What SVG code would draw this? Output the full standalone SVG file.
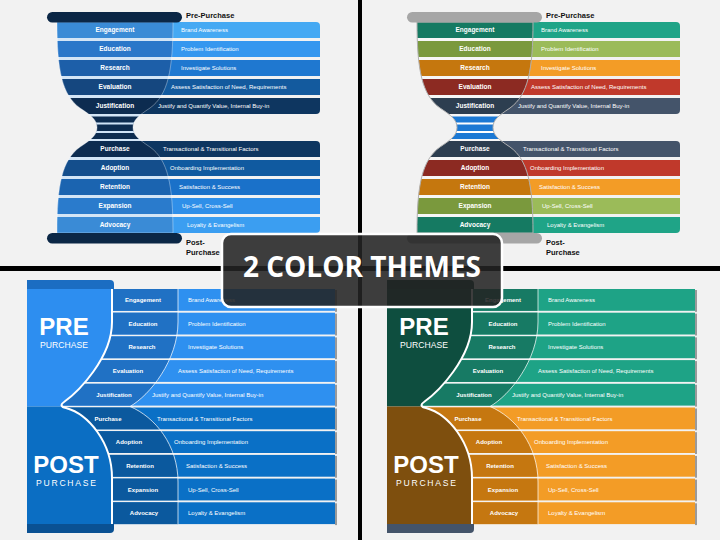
<svg xmlns="http://www.w3.org/2000/svg" width="720" height="540" viewBox="0 0 720 540">
<defs>
<style>
text{font-family:"Liberation Sans",Arial,sans-serif}
.lb{font-weight:bold;font-size:6.5px;fill:#fff;text-anchor:middle}
.lb2{font-weight:bold;font-size:6px;fill:#fff;text-anchor:middle}
.bt{font-size:6px;fill:#fff}
.hd{font-weight:bold;font-size:7.5px;fill:#111}
.big{font-weight:bold;font-size:24px;fill:#fff;text-anchor:middle}
.sub{font-size:8.6px;fill:#fff;text-anchor:middle}
.ttl{font-family:"Open Sans","Liberation Sans",sans-serif;font-weight:700;font-size:28px;fill:#fff;text-anchor:middle}
.sh{fill:#9a9a9a}
</style>
<path id="hgp" d="M57,22 H173 C173,70 168,95 150,108 C138,116 133,120 133,127.5 C133,135 138,139 150,147 C168,160 173,185 173,233 H57 C57,185 62,160 80,147 C92,139 97,135 97,127.5 C97,120 92,116 80,108 C62,95 57,70 57,22 Z"/>
<clipPath id="hgc" clipPathUnits="userSpaceOnUse"><path d="M57,22 H173 C173,70 168,95 150,108 C138,116 133,120 133,127.5 C133,135 138,139 150,147 C168,160 173,185 173,233 H57 C57,185 62,160 80,147 C92,139 97,135 97,127.5 C97,120 92,116 80,108 C62,95 57,70 57,22 Z"/></clipPath>
<clipPath id="cc" clipPathUnits="userSpaceOnUse"><path d="M0,270 H178 V322 C178,360 150,395 130,406.5 C155,417 178,445 178,482 V540 H0 Z"/></clipPath>
</defs>
<rect x="0" y="0" width="720" height="540" fill="#f2f2f2"/>

<!-- TOP LEFT -->
<g id="tl">
<use href="#hgp" fill="#d3e5f6"/>
<g id="tl-engagement"><path d="M115,22H316Q320,22 320,26V38H115Z" fill="#45a9f3"/><rect x="50" y="22" width="130" height="16" fill="#3a8bd6" clip-path="url(#hgc)"/><text class="lb" x="115" y="32.3">Engagement</text><text class="bt" x="181" y="32.1">Brand Awareness</text></g>
<g id="tl-education"><rect x="115" y="41" width="205" height="16" fill="#3597ef"/><rect x="50" y="41" width="130" height="16" fill="#2a77c9" clip-path="url(#hgc)"/><text class="lb" x="115" y="51.3">Education</text><text class="bt" x="181" y="51.1">Problem Identification</text></g>
<g id="tl-research"><rect x="115" y="60" width="205" height="16" fill="#1f78d0"/><rect x="50" y="60" width="130" height="16" fill="#1d5fa9" clip-path="url(#hgc)"/><text class="lb" x="115" y="70.3">Research</text><text class="bt" x="181" y="70.1">Investigate Solutions</text></g>
<g id="tl-evaluation"><rect x="115" y="79" width="205" height="16" fill="#135a9e"/><rect x="50" y="79" width="130" height="16" fill="#15477f" clip-path="url(#hgc)"/><text class="lb" x="115" y="89.3">Evaluation</text><text class="bt" x="171" y="89.1">Assess Satisfaction of Need, Requirements</text></g>
<g id="tl-justification"><path d="M115,98H320V110Q320,114 316,114H115Z" fill="#0e3660"/><rect x="50" y="98" width="130" height="16" fill="#0d2c50" clip-path="url(#hgc)"/><text class="lb" x="115" y="108.3">Justification</text><text class="bt" x="158" y="108.1">Justify and Quantify Value, Internal Buy-in</text></g>
<g id="tl-neck" clip-path="url(#hgc)"><rect x="90" y="116.5" width="50" height="22.5" fill="#0d2c50"/><rect x="90" y="122.5" width="50" height="2" fill="#cfe3f7"/><rect x="90" y="131" width="50" height="2" fill="#cfe3f7"/></g>
<g id="tl-purchase"><path d="M115,141H316Q320,141 320,145V157H115Z" fill="#0e3660"/><rect x="50" y="141" width="130" height="16" fill="#0d2c50" clip-path="url(#hgc)"/><text class="lb" x="115" y="151.3">Purchase</text><text class="bt" x="163" y="151.1">Transactional &amp; Transitional Factors</text></g>
<g id="tl-adoption"><rect x="115" y="160" width="205" height="16" fill="#105aa0"/><rect x="50" y="160" width="130" height="16" fill="#144e8c" clip-path="url(#hgc)"/><text class="lb" x="115" y="170.3">Adoption</text><text class="bt" x="170" y="170.1">Onboarding Implementation</text></g>
<g id="tl-retention"><rect x="115" y="179" width="205" height="16" fill="#1a71c9"/><rect x="50" y="179" width="130" height="16" fill="#1b64b0" clip-path="url(#hgc)"/><text class="lb" x="115" y="189.3">Retention</text><text class="bt" x="179" y="189.1">Satisfaction &amp; Success</text></g>
<g id="tl-expansion"><rect x="115" y="198" width="205" height="16" fill="#2f8fe9"/><rect x="50" y="198" width="130" height="16" fill="#2a7bcc" clip-path="url(#hgc)"/><text class="lb" x="115" y="208.3">Expansion</text><text class="bt" x="182" y="208.1">Up-Sell, Cross-Sell</text></g>
<g id="tl-advocacy"><path d="M115,217H320V229Q320,233 316,233H115Z" fill="#3b9ef1"/><rect x="50" y="217" width="130" height="16" fill="#3a8bd6" clip-path="url(#hgc)"/><text class="lb" x="115" y="227.3">Advocacy</text><text class="bt" x="187" y="227.1">Loyalty &amp; Evangelism</text></g>
<use href="#hgp" fill="none" stroke="#ffffff" stroke-opacity=".35" stroke-width="1"/>
<rect id="tl-topcap" x="47" y="12" width="135" height="10.5" rx="5.25" fill="#0b2746"/>
<rect id="tl-botcap" x="47" y="233" width="135" height="10.5" rx="5.25" fill="#0b2746"/>
<text class="hd" x="186" y="17.5">Pre-Purchase</text>
<text class="hd" x="186" y="245">Post-</text>
<text class="hd" x="186" y="255">Purchase</text>
</g>

<!-- TOP RIGHT -->
<g id="tr" transform="translate(360,0)">
<use href="#hgp" fill="#f6f6f6"/>
<g id="tr-engagement"><path d="M115,22H316Q320,22 320,26V38H115Z" fill="#1fa487"/><rect x="50" y="22" width="130" height="16" fill="#157a62" clip-path="url(#hgc)"/><text class="lb" x="115" y="32.3">Engagement</text><text class="bt" x="181" y="32.1">Brand Awareness</text></g>
<g id="tr-education"><rect x="115" y="41" width="205" height="16" fill="#9bbb59"/><rect x="50" y="41" width="130" height="16" fill="#7a993d" clip-path="url(#hgc)"/><text class="lb" x="115" y="51.3">Education</text><text class="bt" x="181" y="51.1">Problem Identification</text></g>
<g id="tr-research"><rect x="115" y="60" width="205" height="16" fill="#f39c26"/><rect x="50" y="60" width="130" height="16" fill="#c5770e" clip-path="url(#hgc)"/><text class="lb" x="115" y="70.3">Research</text><text class="bt" x="181" y="70.1">Investigate Solutions</text></g>
<g id="tr-evaluation"><rect x="115" y="79" width="205" height="16" fill="#c0392b"/><rect x="50" y="79" width="130" height="16" fill="#8c2a22" clip-path="url(#hgc)"/><text class="lb" x="115" y="89.3">Evaluation</text><text class="bt" x="171" y="89.1">Assess Satisfaction of Need, Requirements</text></g>
<g id="tr-justification"><path d="M115,98H320V110Q320,114 316,114H115Z" fill="#44546a"/><rect x="50" y="98" width="130" height="16" fill="#2d3e50" clip-path="url(#hgc)"/><text class="lb" x="115" y="108.3">Justification</text><text class="bt" x="158" y="108.1">Justify and Quantify Value, Internal Buy-in</text></g>
<g id="tr-neck" clip-path="url(#hgc)"><rect x="90" y="116.5" width="50" height="22.5" fill="#1c79d4"/><rect x="90" y="122.5" width="50" height="2" fill="#ffffff"/><rect x="90" y="131" width="50" height="2" fill="#ffffff"/></g>
<g id="tr-purchase"><path d="M115,141H316Q320,141 320,145V157H115Z" fill="#44546a"/><rect x="50" y="141" width="130" height="16" fill="#2d3e50" clip-path="url(#hgc)"/><text class="lb" x="115" y="151.3">Purchase</text><text class="bt" x="163" y="151.1">Transactional &amp; Transitional Factors</text></g>
<g id="tr-adoption"><rect x="115" y="160" width="205" height="16" fill="#c0392b"/><rect x="50" y="160" width="130" height="16" fill="#8c2a22" clip-path="url(#hgc)"/><text class="lb" x="115" y="170.3">Adoption</text><text class="bt" x="170" y="170.1">Onboarding Implementation</text></g>
<g id="tr-retention"><rect x="115" y="179" width="205" height="16" fill="#f39c26"/><rect x="50" y="179" width="130" height="16" fill="#c5770e" clip-path="url(#hgc)"/><text class="lb" x="115" y="189.3">Retention</text><text class="bt" x="179" y="189.1">Satisfaction &amp; Success</text></g>
<g id="tr-expansion"><rect x="115" y="198" width="205" height="16" fill="#9bbb59"/><rect x="50" y="198" width="130" height="16" fill="#7a993d" clip-path="url(#hgc)"/><text class="lb" x="115" y="208.3">Expansion</text><text class="bt" x="182" y="208.1">Up-Sell, Cross-Sell</text></g>
<g id="tr-advocacy"><path d="M115,217H320V229Q320,233 316,233H115Z" fill="#1fa487"/><rect x="50" y="217" width="130" height="16" fill="#157a62" clip-path="url(#hgc)"/><text class="lb" x="115" y="227.3">Advocacy</text><text class="bt" x="187" y="227.1">Loyalty &amp; Evangelism</text></g>
<use href="#hgp" fill="none" stroke="#b0b0b0" stroke-width="1"/>
<rect id="tr-topcap" x="47" y="12" width="135" height="10.5" rx="5.25" fill="#a6a6a6"/>
<rect id="tr-botcap" x="47" y="233" width="135" height="10.5" rx="5.25" fill="#a6a6a6"/>
<text class="hd" x="186" y="17.5">Pre-Purchase</text>
<text class="hd" x="186" y="245">Post-</text>
<text class="hd" x="186" y="255">Purchase</text>
</g>

<!-- BOTTOM LEFT -->
<g id="bl">
<g id="bl-engagement"><rect x="60" y="289" width="275" height="21.8" fill="#2e90f0"/><rect class="sh" x="335" y="290" width="2" height="21.8"/><rect x="60" y="289" width="130" height="21.8" fill="#2071c4" clip-path="url(#cc)"/><text class="lb2" x="143" y="302">Engagement</text><text class="bt" x="188" y="302">Brand Awareness</text></g>
<g id="bl-education"><rect x="60" y="312.7" width="275" height="21.8" fill="#2e90f0"/><rect class="sh" x="335" y="313.7" width="2" height="21.8"/><rect x="60" y="312.7" width="130" height="21.8" fill="#2071c4" clip-path="url(#cc)"/><text class="lb2" x="143" y="325.7">Education</text><text class="bt" x="188" y="325.7">Problem Identification</text></g>
<g id="bl-research"><rect x="60" y="336.4" width="275" height="21.8" fill="#2e90f0"/><rect class="sh" x="335" y="337.4" width="2" height="21.8"/><rect x="60" y="336.4" width="130" height="21.8" fill="#2071c4" clip-path="url(#cc)"/><text class="lb2" x="142" y="349.4">Research</text><text class="bt" x="188" y="349.4">Investigate Solutions</text></g>
<g id="bl-evaluation"><rect x="60" y="360.1" width="275" height="21.8" fill="#2e90f0"/><rect class="sh" x="335" y="361.1" width="2" height="21.8"/><rect x="60" y="360.1" width="130" height="21.8" fill="#2071c4" clip-path="url(#cc)"/><text class="lb2" x="128" y="373.1">Evaluation</text><text class="bt" x="178" y="373.1">Assess Satisfaction of Need, Requirements</text></g>
<g id="bl-justification"><rect x="60" y="383.8" width="275" height="21.8" fill="#2e90f0"/><rect class="sh" x="335" y="384.8" width="2" height="21.8"/><rect x="60" y="383.8" width="130" height="21.8" fill="#2071c4" clip-path="url(#cc)"/><text class="lb2" x="114" y="396.8">Justification</text><text class="bt" x="152" y="396.8">Justify and Quantify Value, Internal Buy-in</text></g>
<g id="bl-purchase"><rect x="60" y="407.5" width="275" height="21.8" fill="#0a70c6"/><rect class="sh" x="335" y="408.5" width="2" height="21.8"/><rect x="60" y="407.5" width="130" height="21.8" fill="#0b599e" clip-path="url(#cc)"/><text class="lb2" x="108" y="420.5">Purchase</text><text class="bt" x="157" y="420.5">Transactional &amp; Transitional Factors</text></g>
<g id="bl-adoption"><rect x="60" y="431.2" width="275" height="21.8" fill="#0a70c6"/><rect class="sh" x="335" y="432.2" width="2" height="21.8"/><rect x="60" y="431.2" width="130" height="21.8" fill="#0b599e" clip-path="url(#cc)"/><text class="lb2" x="129" y="444.2">Adoption</text><text class="bt" x="174" y="444.2">Onboarding Implementation</text></g>
<g id="bl-retention"><rect x="60" y="454.9" width="275" height="21.8" fill="#0a70c6"/><rect class="sh" x="335" y="455.9" width="2" height="21.8"/><rect x="60" y="454.9" width="130" height="21.8" fill="#0b599e" clip-path="url(#cc)"/><text class="lb2" x="140" y="467.9">Retention</text><text class="bt" x="186" y="467.9">Satisfaction &amp; Success</text></g>
<g id="bl-expansion"><rect x="60" y="478.6" width="275" height="21.8" fill="#0a70c6"/><rect class="sh" x="335" y="479.6" width="2" height="21.8"/><rect x="60" y="478.6" width="130" height="21.8" fill="#0b599e" clip-path="url(#cc)"/><text class="lb2" x="143" y="491.6">Expansion</text><text class="bt" x="188" y="491.6">Up-Sell, Cross-Sell</text></g>
<g id="bl-advocacy"><rect x="60" y="502.3" width="275" height="21.8" fill="#0a70c6"/><rect class="sh" x="335" y="503.3" width="2" height="21.8"/><rect x="60" y="502.3" width="130" height="21.8" fill="#0b599e" clip-path="url(#cc)"/><text class="lb2" x="144" y="515.3">Advocacy</text><text class="bt" x="188" y="515.3">Loyalty &amp; Evangelism</text></g>
<path d="M178,289 V322 C178,360 150,395 130,406.5 C155,417 178,445 178,482 V524" fill="none" stroke="#fff" stroke-opacity=".8" stroke-width="0.9"/>
<g id="bl-pre"><path d="M27,289 H112 V322 C112,358 78,392 64,402 C60,404.5 60,406 62,406.5 H27 Z" fill="#2d8ef0"/><text class="big" x="64" y="335">PRE</text><text class="sub" x="64" y="348">PURCHASE</text></g>
<g id="bl-post"><path d="M27,406.5 H62 C63,407 64,407.5 66,408 C88,414 112,442 112,478 V524 H27 Z" fill="#0b6ec3"/><text class="big" x="66" y="473">POST</text><text class="sub" x="66" y="486" textLength="60">PURCHASE</text></g>
<path d="M112,289 V322 C112,358 78,392 64,402 C60,404.5 61,407 66,408 C88,414 112,442 112,478 V524" fill="none" stroke="#fff" stroke-width="2"/>
<path id="bl-topcap" d="M27,280 H110 Q114,280 114,284 V289 H27 Z" fill="#1b6dc2"/>
<path id="bl-botcap" d="M27,524 H114 V529 Q114,533 110,533 H27 Z" fill="#0a5193"/>
</g>

<!-- BOTTOM RIGHT -->
<g id="br" transform="translate(360,0)">
<g id="br-engagement"><rect x="60" y="289" width="275" height="21.8" fill="#1ea386"/><rect class="sh" x="335" y="290" width="2" height="21.8"/><rect x="60" y="289" width="130" height="21.8" fill="#177a64" clip-path="url(#cc)"/><text class="lb2" x="143" y="302">Engagement</text><text class="bt" x="188" y="302">Brand Awareness</text></g>
<g id="br-education"><rect x="60" y="312.7" width="275" height="21.8" fill="#1ea386"/><rect class="sh" x="335" y="313.7" width="2" height="21.8"/><rect x="60" y="312.7" width="130" height="21.8" fill="#177a64" clip-path="url(#cc)"/><text class="lb2" x="143" y="325.7">Education</text><text class="bt" x="188" y="325.7">Problem Identification</text></g>
<g id="br-research"><rect x="60" y="336.4" width="275" height="21.8" fill="#1ea386"/><rect class="sh" x="335" y="337.4" width="2" height="21.8"/><rect x="60" y="336.4" width="130" height="21.8" fill="#177a64" clip-path="url(#cc)"/><text class="lb2" x="142" y="349.4">Research</text><text class="bt" x="188" y="349.4">Investigate Solutions</text></g>
<g id="br-evaluation"><rect x="60" y="360.1" width="275" height="21.8" fill="#1ea386"/><rect class="sh" x="335" y="361.1" width="2" height="21.8"/><rect x="60" y="360.1" width="130" height="21.8" fill="#177a64" clip-path="url(#cc)"/><text class="lb2" x="128" y="373.1">Evaluation</text><text class="bt" x="178" y="373.1">Assess Satisfaction of Need, Requirements</text></g>
<g id="br-justification"><rect x="60" y="383.8" width="275" height="21.8" fill="#1ea386"/><rect class="sh" x="335" y="384.8" width="2" height="21.8"/><rect x="60" y="383.8" width="130" height="21.8" fill="#177a64" clip-path="url(#cc)"/><text class="lb2" x="114" y="396.8">Justification</text><text class="bt" x="152" y="396.8">Justify and Quantify Value, Internal Buy-in</text></g>
<g id="br-purchase"><rect x="60" y="407.5" width="275" height="21.8" fill="#f39c26"/><rect class="sh" x="335" y="408.5" width="2" height="21.8"/><rect x="60" y="407.5" width="130" height="21.8" fill="#c57710" clip-path="url(#cc)"/><text class="lb2" x="108" y="420.5">Purchase</text><text class="bt" x="157" y="420.5">Transactional &amp; Transitional Factors</text></g>
<g id="br-adoption"><rect x="60" y="431.2" width="275" height="21.8" fill="#f39c26"/><rect class="sh" x="335" y="432.2" width="2" height="21.8"/><rect x="60" y="431.2" width="130" height="21.8" fill="#c57710" clip-path="url(#cc)"/><text class="lb2" x="129" y="444.2">Adoption</text><text class="bt" x="174" y="444.2">Onboarding Implementation</text></g>
<g id="br-retention"><rect x="60" y="454.9" width="275" height="21.8" fill="#f39c26"/><rect class="sh" x="335" y="455.9" width="2" height="21.8"/><rect x="60" y="454.9" width="130" height="21.8" fill="#c57710" clip-path="url(#cc)"/><text class="lb2" x="140" y="467.9">Retention</text><text class="bt" x="186" y="467.9">Satisfaction &amp; Success</text></g>
<g id="br-expansion"><rect x="60" y="478.6" width="275" height="21.8" fill="#f39c26"/><rect class="sh" x="335" y="479.6" width="2" height="21.8"/><rect x="60" y="478.6" width="130" height="21.8" fill="#c57710" clip-path="url(#cc)"/><text class="lb2" x="143" y="491.6">Expansion</text><text class="bt" x="188" y="491.6">Up-Sell, Cross-Sell</text></g>
<g id="br-advocacy"><rect x="60" y="502.3" width="275" height="21.8" fill="#f39c26"/><rect class="sh" x="335" y="503.3" width="2" height="21.8"/><rect x="60" y="502.3" width="130" height="21.8" fill="#c57710" clip-path="url(#cc)"/><text class="lb2" x="144" y="515.3">Advocacy</text><text class="bt" x="188" y="515.3">Loyalty &amp; Evangelism</text></g>
<path d="M178,289 V322 C178,360 150,395 130,406.5 C155,417 178,445 178,482 V524" fill="none" stroke="#fff" stroke-opacity=".8" stroke-width="0.9"/>
<g id="br-pre"><path d="M27,289 H112 V322 C112,358 78,392 64,402 C60,404.5 60,406 62,406.5 H27 Z" fill="#0e4e3f"/><text class="big" x="64" y="335">PRE</text><text class="sub" x="64" y="348">PURCHASE</text></g>
<g id="br-post"><path d="M27,406.5 H62 C63,407 64,407.5 66,408 C88,414 112,442 112,478 V524 H27 Z" fill="#7e4f0e"/><text class="big" x="66" y="473">POST</text><text class="sub" x="66" y="486" textLength="60">PURCHASE</text></g>
<path d="M112,289 V322 C112,358 78,392 64,402 C60,404.5 61,407 66,408 C88,414 112,442 112,478 V524" fill="none" stroke="#fff" stroke-width="2"/>
<path id="br-topcap" d="M27,280 H110 Q114,280 114,284 V289 H27 Z" fill="#0c3d32"/>
<path id="br-botcap" d="M27,524 H114 V529 Q114,533 110,533 H27 Z" fill="#44546a"/>
</g>

<!-- DIVIDERS -->
<g id="dividers">
<rect x="358" y="0" width="4" height="540" fill="#000"/>
<rect x="0" y="266" width="720" height="5" fill="#000"/>
</g>

<!-- TITLE OVERLAY -->
<g id="title">
<rect x="222" y="234" width="280" height="73" rx="9" fill="#232323" fill-opacity=".88" stroke="#fff" stroke-width="2.5"/>
<text class="ttl" x="362" y="277">2 COLOR THEMES</text>
</g>
</svg>
